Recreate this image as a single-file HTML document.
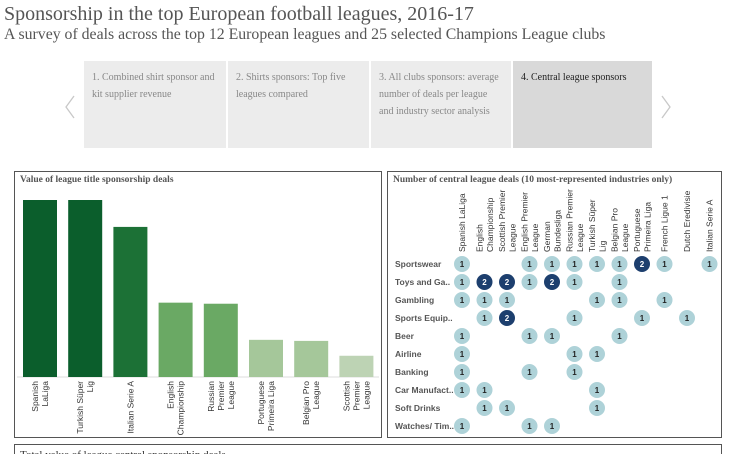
<!DOCTYPE html>
<html><head><meta charset="utf-8"><style>
html,body{margin:0;width:736px;height:454px;overflow:hidden;background:#fff}
body{font-family:"Liberation Serif",serif;position:relative}
.t1{position:absolute;left:4px;top:3px;font-size:20px;color:#555;white-space:nowrap}
.t2{position:absolute;left:4px;top:26px;font-size:15.8px;color:#555;white-space:nowrap}
.card{position:absolute;top:61px;height:87px;background:#ececec;font-size:10px;line-height:17px;color:#888;padding:8px 8px;box-sizing:border-box}
.card.act{background:#d9d9d9;color:#222}
.arrow{position:absolute;top:95px}
.box{position:absolute;border:1px solid #555;box-sizing:border-box;background:#fff}
.bt{position:absolute;left:5px;top:3px;font-size:9.5px;font-weight:bold;color:#555;white-space:nowrap}
svg text{font-family:"Liberation Sans",sans-serif}
</style></head><body>
<div class="t1">Sponsorship in the top European football leagues, 2016-17</div>
<div class="t2">A survey of deals across the top 12 European leagues and 25 selected Champions League clubs</div>
<svg class="arrow" style="left:64px" width="12" height="24"><polyline points="10,1 2,12 10,23" fill="none" stroke="#c8c8c8" stroke-width="1.3"/></svg>
<div class="card" style="left:84px;width:142px">1. Combined shirt sponsor and kit supplier revenue</div>
<div class="card" style="left:228px;width:141px">2. Shirts sponsors: Top five leagues compared</div>
<div class="card" style="left:371px;width:140px">3. All clubs sponsors: average number of deals per league and industry sector analysis</div>
<div class="card act" style="left:513px;width:139px">4. Central league sponsors</div>
<svg class="arrow" style="left:660px" width="12" height="24"><polyline points="2,1 10,12 2,23" fill="none" stroke="#c8c8c8" stroke-width="1.3"/></svg>

<div class="box" style="left:14px;top:171px;width:368px;height:267px">
<div class="bt">Value of league title sponsorship deals</div>
<svg id="bars" width="366" height="265" style="position:absolute;left:0;top:0"></svg>
</div>
<div class="box" style="left:387px;top:171px;width:335px;height:267px">
<div class="bt">Number of central league deals (10 most-represented industries only)</div>
<svg id="mat" width="333" height="265" style="position:absolute;left:0;top:0"></svg>
</div>
<div class="box" style="left:14px;top:444px;width:708px;height:10px;border-bottom:none;overflow:hidden">
<div class="bt" style="font-weight:normal;color:#333;font-size:11px;top:4px">Total value of league central sponsorship deals</div>
</div>
<script>
const barLeagues=[["Spanish","LaLiga"],["Turkish Süper","Lig"],["Italian Serie A"],["English","Championship"],["Russian","Premier","League"],["Portuguese","Primeira Liga"],["Belgian Pro","League"],["Scottish","Premier","League"]];
const barValues=[50,50,42.4,21,20.7,10.5,10.2,6];
const barColors=["#0b5e2c","#0b5e2c","#1c7136","#6aa964","#6aa964","#a5c79a","#a5c79a","#bdd3b4"];
const cols=[["Spanish LaLiga"],["English","Championship"],["Scottish Premier","League"],["English Premier","League"],["German","Bundesliga"],["Russian Premier","League"],["Turkish Süper","Lig"],["Belgian Pro","League"],["Portuguese","Primeira Liga"],["French Ligue 1"],["Dutch Eredivisie"],["Italian Serie A"]];
const rows=["Sportswear","Toys and Ga..","Gambling","Sports Equip..","Beer","Airline","Banking","Car Manufact..","Soft Drinks","Watches/ Tim.."];
const counts=[
[1,0,0,1,1,1,1,1,2,1,0,1],
[1,2,2,1,2,1,0,1,0,0,0,0],
[1,1,1,0,0,0,1,1,0,1,0,0],
[0,1,2,0,0,1,0,0,1,0,1,0],
[1,0,0,1,1,0,0,1,0,0,0,0],
[1,0,0,0,0,1,1,0,0,0,0,0],
[1,0,0,1,0,1,0,0,0,0,0,0],
[1,1,0,0,0,0,1,0,0,0,0,0],
[0,1,1,0,0,0,1,0,0,0,0,0],
[1,0,0,1,1,0,0,0,0,0,0,0]];
const NS="http://www.w3.org/2000/svg";
function mk(p,t,a){const e=document.createElementNS(NS,t);for(const k in a)e.setAttribute(k,a[k]);p.appendChild(e);return e;}
const bs=document.getElementById('bars');
const base=205,maxH=177,maxV=Math.max(...barValues);
const y=v=>base-v/maxV*maxH, x=i=>8+i*45.2;
mk(bs,'line',{x1:2,x2:364,y1:base,y2:base,stroke:'#ddd'});
barValues.forEach((v,i)=>{
 const r=mk(bs,'rect',{x:x(i),y:y(v),width:34,height:base-y(v),fill:barColors[i]});
 
 
 const lines=barLeagues[i],cx=x(i)+17;
 const t=mk(bs,'text',{transform:`translate(${cx},${base+4}) rotate(-90)`,'font-size':'8.5',fill:'#333','text-anchor':'end'});
 
 
 lines.forEach((l,j)=>{const s=mk(t,'tspan',{x:0,y:(j-(lines.length-1)/2)*10+3});s.textContent=l;});
});
const ms=document.getElementById('mat');
const cx=j=>74+j*22.5, ry=i=>92+i*18;
cols.forEach((c,j)=>{
 const t=mk(ms,'text',{transform:`translate(${cx(j)},80) rotate(-90)`,'font-size':'8.5',fill:'#333'});
 
 
 c.forEach((l,k)=>{const s=mk(t,'tspan',{x:0,y:(k-(c.length-1)/2)*10.5+3});s.textContent=l;});
});
rows.forEach((r,i)=>{
 const t=mk(ms,'text',{x:7,y:ry(i)+3,'font-size':'8.5','font-weight':'bold',fill:'#555'});t.textContent=r;
 
 
 counts[i].forEach((v,j)=>{
  if(!v)return;
  const c=mk(ms,'circle',{cx:cx(j),cy:ry(i),r:8,fill:v>1?'#1d3f6e':'#aed2d8'});
  
  
  const n=mk(ms,'text',{x:cx(j),y:ry(i)+3,'font-size':'8','font-weight':'bold','text-anchor':'middle',fill:v>1?'#fff':'#222'});n.textContent=v;
 });
});
</script>
</body></html>
